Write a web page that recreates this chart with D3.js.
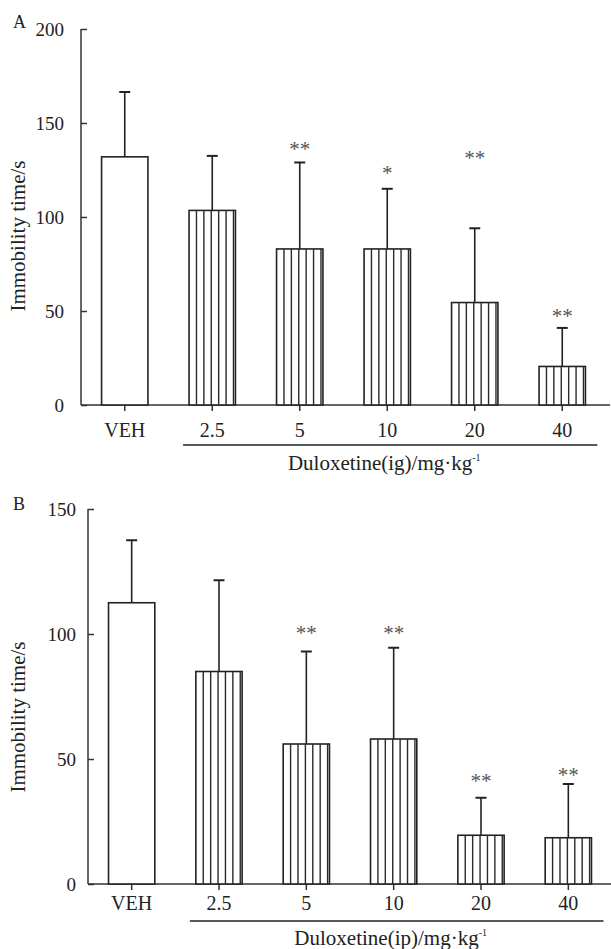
<!DOCTYPE html>
<html>
<head>
<meta charset="utf-8">
<script src="https://cdnjs.cloudflare.com/ajax/libs/d3/7.8.5/d3.min.js"></script>
<style>
  body { margin: 0; background: #fff; }
  text { font-family: "Liberation Serif", "Times New Roman", serif; fill: #222; }
</style>
</head>
<body>
<svg id="svgContainer" width="611" height="949"></svg>
<script>
/* values */
var categories = ["VEH", "2.5", "5", "10", "20", "40"];

var meanA = [132, 103.5, 83, 83, 54.5, 20.5];
var sdA = [34.5, 29, 46, 32, 39.5, 20.5];
var starsA = ["", "", "**", "*", "**", "**"];
var starPosA = [null, null, 138, 125, 133, 49];
var ticksA = [0, 50, 100, 150, 200];

var meanB = [112.5, 85, 56, 58, 19.5, 18.5];
var sdB = [25, 36.5, 37, 36.5, 15, 21.5];
var starsB = ["", "", "**", "**", "**", "**"];
var starPosB = [null, null, 101.5, 101.5, 42.5, 45];
var ticksB = [0, 50, 100, 150];

var svgContainer = d3.select("#svgContainer");

var drawPanel = (p) => {
  var g = svgContainer.append("g");

  var x = d3
    .scaleBand()
    .domain(categories)
    .range([p.left, p.right])
    .paddingInner(0.47)
    .paddingOuter(0.235);
  var y = d3.scaleLinear().domain([0, p.max]).range([p.bottom, p.top]);
  var bw = x.bandwidth();

  var rows = categories.map((c, i) => {
    return { cat: c, mean: p.mean[i], sd: p.sd[i], star: p.stars[i], starPos: p.starPos[i] };
  });

  // y axis, ticks pointing inward
  var yAxis = d3
    .axisRight(y)
    .tickValues(p.ticks)
    .tickSize(6)
    .tickFormat("");
  var ya = g
    .append("g")
    .attr("transform", "translate(" + p.left + ",0)")
    .call(yAxis);
  ya.select(".domain").attr("d", "M0," + y(0) + "V" + y(p.max));
  ya.selectAll("line, path").attr("stroke", "#333").attr("stroke-width", 1.5);

  g.selectAll(".ytick")
    .data(p.ticks)
    .enter()
    .append("text")
    .attr("x", p.tickLabelX)
    .attr("y", (d) => y(d) + 7)
    .attr("text-anchor", "end")
    .style("font-size", "19px")
    .text((d) => d);

  // x axis
  var xa = g
    .append("g")
    .attr("transform", "translate(0," + y(0) + ")")
    .call(d3.axisBottom(x).tickSize(6).tickSizeOuter(0).tickFormat(""));
  xa.select(".domain").attr("d", "M" + p.left + ",0H" + p.axisEnd);
  xa.selectAll("line, path").attr("stroke", "#333").attr("stroke-width", 1.5);

  g.selectAll(".xlab")
    .data(categories)
    .enter()
    .append("text")
    .attr("x", (d) => x(d) + bw / 2)
    .attr("y", y(0) + p.catDy)
    .attr("text-anchor", "middle")
    .style("font-size", "20px")
    .text((d) => d);

  // error bars
  var err = g.selectAll(".err").data(rows).enter().append("g");
  err
    .append("line")
    .attr("x1", (d) => x(d.cat) + bw / 2)
    .attr("x2", (d) => x(d.cat) + bw / 2)
    .attr("y1", (d) => y(d.mean))
    .attr("y2", (d) => y(d.mean + d.sd))
    .attr("stroke", "#222")
    .attr("stroke-width", 1.6);
  err
    .append("line")
    .attr("x1", (d) => x(d.cat) + bw / 2 - 5.5)
    .attr("x2", (d) => x(d.cat) + bw / 2 + 5.5)
    .attr("y1", (d) => y(d.mean + d.sd))
    .attr("y2", (d) => y(d.mean + d.sd))
    .attr("stroke", "#222")
    .attr("stroke-width", 2);

  // bars
  g.selectAll(".bar")
    .data(rows)
    .enter()
    .append("rect")
    .attr("x", (d) => x(d.cat))
    .attr("y", (d) => y(d.mean))
    .attr("width", bw)
    .attr("height", (d) => y(0) - y(d.mean))
    .attr("fill", "#fff")
    .attr("stroke", "#222")
    .attr("stroke-width", 1.6);

  // vertical hatching on the drug bars
  rows.slice(1).forEach((d) => {
    var x0 = x(d.cat);
    var lines = d3.range(1, 7).map((k) => x0 + k * 7.4);
    g.selectAll(null)
      .data(lines)
      .enter()
      .append("line")
      .attr("x1", (lx) => lx)
      .attr("x2", (lx) => lx)
      .attr("y1", y(d.mean))
      .attr("y2", y(0))
      .attr("stroke", "#2a2a2a")
      .attr("stroke-width", 1.4);
  });

  // significance marks
  g.selectAll(".star")
    .data(rows.filter((d) => d.star !== ""))
    .enter()
    .append("text")
    .attr("x", (d) => x(d.cat) + bw / 2)
    .attr("y", (d) => y(d.starPos) + 10)
    .attr("text-anchor", "middle")
    .style("font-size", "21px")
    .style("fill", "#555")
    .text((d) => d.star);

  // group line under the doses
  var lx1 = x("2.5") - 6;
  var lx2 = x("40") + bw + 12;
  g.append("line")
    .attr("x1", lx1)
    .attr("x2", lx2)
    .attr("y1", p.lineY)
    .attr("y2", p.lineY)
    .attr("stroke", "#222")
    .attr("stroke-width", 1.6);

  var title = g
    .append("text")
    .attr("x", (lx1 + lx2) / 2 - 6)
    .attr("y", p.titleY)
    .attr("text-anchor", "middle")
    .style("font-size", "21px");
  title.append("tspan").text(p.title);
  title.append("tspan").attr("dy", -9).style("font-size", "10px").text("-1");

  // y label
  g.append("text")
    .attr("transform", "translate(" + 25 + "," + p.labelY + ") rotate(-90)")
    .attr("text-anchor", "middle")
    .style("font-size", "21px")
    .text("Immobility time/s");

  g.append("text")
    .attr("x", 13)
    .attr("y", p.letterY)
    .style("font-size", "18px")
    .text(p.letter);
};

drawPanel({
  left: 81, right: 606, axisEnd: 610, top: 29, bottom: 405, max: 200,
  mean: meanA, sd: sdA, stars: starsA, starPos: starPosA, ticks: ticksA,
  tickLabelX: 64, catDy: 32, lineY: 445, titleY: 470, labelY: 236, letterY: 28,
  title: "Duloxetine(ig)/mg·kg", letter: "A"
});

drawPanel({
  left: 88, right: 612, axisEnd: 611, top: 509, bottom: 884, max: 150,
  mean: meanB, sd: sdB, stars: starsB, starPos: starPosB, ticks: ticksB,
  tickLabelX: 76, catDy: 26, lineY: 921, titleY: 945, labelY: 717, letterY: 510,
  title: "Duloxetine(ip)/mg·kg", letter: "B"
});
</script>
</body>
</html>
